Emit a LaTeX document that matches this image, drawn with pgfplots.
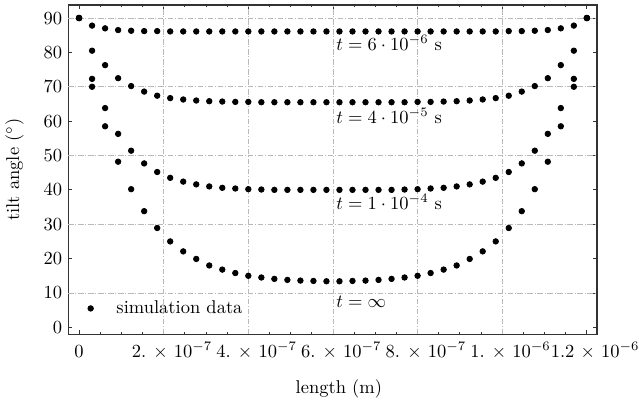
\documentclass[border=0pt]{standalone}
\usepackage{pgfplots}
\pgfplotsset{compat=1.18}
\usetikzlibrary{calc}
\begin{document}
\begin{tikzpicture}
\begin{axis}[
  name=ax,
  scale only axis,
  width=286pt, height=178pt,
  xmin=-0.26, xmax=12.24,
  ymin=-2, ymax=93.8,
  axis line style={black!80, line width=0.6pt},
  xtick={0,2,4,6,8,10,12},
  xticklabels={\hspace*{-9pt}$0$, $2.\mskip3mu\times\mskip2mu10^{-7}$, $4.\mskip3mu\times\mskip2mu10^{-7}$, $6.\mskip3mu\times\mskip2mu10^{-7}$, $8.\mskip3mu\times\mskip2mu10^{-7}$, $1.\mskip3mu\times\mskip2mu10^{-6}$, $1.2\mskip2mu\times\mskip2mu10^{-6}$},
  minor x tick num=3,
  ytick={0,10,...,90},
  tick align=inside,
  major tick length=2.4pt,
  minor tick length=1.3pt,
  tick style={black!80, line width=0.5pt},
  xticklabel style={anchor=base, yshift=-12.4pt, xshift=4.5pt, inner sep=0pt},
  yticklabel style={inner sep=3pt},
  extra y ticks={10,30,50,70,90},
  extra y tick labels={},
  extra x ticks={2,4,6,8,10},
  extra x tick labels={},
  extra tick style={grid=major, major tick length=0pt},
  major grid style={gray!55, densely dashdotted, line width=0.45pt},
  xlabel={length (m)},
  ylabel={tilt angle ($^\circ$)},
  xlabel style={at={(axis description cs:0.512,0)}, anchor=base, yshift=-32pt, xshift=0pt, inner sep=0pt},
  ylabel style={at={(axis description cs:-0.0926,0.5)}, anchor=base, rotate=0, inner sep=0pt},
  legend style={at={(axis cs:0.2,5.5)}, anchor=west, draw=none, fill=none, inner sep=0pt, font=\normalsize},
  legend cell align=left,
]
\addplot[only marks, mark=*, mark size=1.5pt, black,
  legend image code/.code={\path[draw=none] (0cm,0cm) -- (0.42cm,0cm); \draw[only marks, mark=*, mark size=1.5pt] plot coordinates {(0cm,0cm)};}] coordinates {
(0,90)(0.3077,87.8)(0.6154,87.0)(0.9231,86.5)(1.2308,86.3)(1.5385,86.2)(1.8462,86.2)(2.1538,86.1)(2.4615,86.1)(2.7692,86.1)
(3.0769,86.1)(3.3846,86.1)(3.6923,86.1)(4.0,86.1)(4.3077,86.1)(4.6154,86.1)(4.9231,86.1)(5.2308,86.1)(5.5385,86.1)(5.8462,86.1)
(6.1538,86.1)(6.4615,86.1)(6.7692,86.1)(7.0769,86.1)(7.3846,86.1)(7.6923,86.1)(8.0,86.1)(8.3077,86.1)(8.6154,86.1)(8.9231,86.1)
(9.2308,86.1)(9.5385,86.1)(9.8462,86.1)(10.1538,86.2)(10.4615,86.2)(10.7692,86.3)(11.0769,86.5)(11.3846,87.0)(11.6923,87.8)(12.0,90)
};
\addlegendentry{simulation data}
\addplot[only marks, mark=*, mark size=1.5pt, black, forget plot] coordinates {
(0,90)(0.3077,80.5)(0.6154,76.3)(0.9231,72.5)(1.2308,70.2)(1.5385,68.6)(1.8462,67.4)(2.1538,66.7)(2.4615,66.3)(2.7692,66.0)
(3.0769,65.8)(3.3846,65.7)(3.6923,65.6)(4.0,65.6)(4.3077,65.5)(4.6154,65.5)(4.9231,65.5)(5.2308,65.5)(5.5385,65.5)(5.8462,65.5)
(6.1538,65.5)(6.4615,65.5)(6.7692,65.5)(7.0769,65.5)(7.3846,65.5)(7.6923,65.5)(8.0,65.6)(8.3077,65.6)(8.6154,65.7)(8.9231,65.8)
(9.2308,66.0)(9.5385,66.3)(9.8462,66.7)(10.1538,67.4)(10.4615,68.6)(10.7692,70.2)(11.0769,72.5)(11.3846,76.3)(11.6923,80.5)(12.0,90)
};
\addplot[only marks, mark=*, mark size=1.5pt, black, forget plot] coordinates {
(0,90)(0.3077,72.3)(0.6154,63.8)(0.9231,56.3)(1.2308,51.4)(1.5385,47.7)(1.8462,45.2)(2.1538,43.5)(2.4615,42.4)(2.7692,41.6)
(3.0769,41.0)(3.3846,40.6)(3.6923,40.4)(4.0,40.2)(4.3077,40.1)(4.6154,40.0)(4.9231,40.0)(5.2308,40.0)(5.5385,40.0)(5.8462,40.0)
(6.1538,40.0)(6.4615,40.0)(6.7692,40.0)(7.0769,40.0)(7.3846,40.0)(7.6923,40.1)(8.0,40.2)(8.3077,40.4)(8.6154,40.6)(8.9231,41.0)
(9.2308,41.6)(9.5385,42.4)(9.8462,43.5)(10.1538,45.2)(10.4615,47.7)(10.7692,51.4)(11.0769,56.3)(11.3846,63.8)(11.6923,72.3)(12.0,90)
};
\addplot[only marks, mark=*, mark size=1.5pt, black, forget plot] coordinates {
(0,90)(0.3077,70.0)(0.6154,58.5)(0.9231,48.2)(1.2308,40.2)(1.5385,33.8)(1.8462,28.9)(2.1538,25.0)(2.4615,22.1)(2.7692,19.9)
(3.0769,18.0)(3.3846,16.8)(3.6923,15.8)(4.0,15.0)(4.3077,14.5)(4.6154,14.1)(4.9231,13.8)(5.2308,13.6)(5.5385,13.5)(5.8462,13.4)
(6.1538,13.4)(6.4615,13.5)(6.7692,13.6)(7.0769,13.8)(7.3846,14.1)(7.6923,14.5)(8.0,15.0)(8.3077,15.8)(8.6154,16.8)(8.9231,18.0)
(9.2308,19.9)(9.5385,22.1)(9.8462,25.0)(10.1538,28.9)(10.4615,33.8)(10.7692,40.2)(11.0769,48.2)(11.3846,58.5)(11.6923,70.0)(12.0,90)
};
\node[anchor=base west, inner sep=0pt] at (axis cs:6.07,80.6) {$t=6\cdot10^{-6}$~s};
\node[anchor=base west, inner sep=0pt] at (axis cs:6.07,59.3) {$t=4\cdot10^{-5}$~s};
\node[anchor=base west, inner sep=0pt] at (axis cs:6.07,34.3) {$t=1\cdot10^{-4}$~s};
\node[anchor=base west, inner sep=0pt] at (axis cs:6.07,5.9) {$t=\infty$};
\end{axis}
\pgfresetboundingbox
\path ($(ax.south west)+(-36.8pt,-38.4pt)$) rectangle ($(ax.north east)+(22.7pt,2.7pt)$);
\end{tikzpicture}
\end{document}
